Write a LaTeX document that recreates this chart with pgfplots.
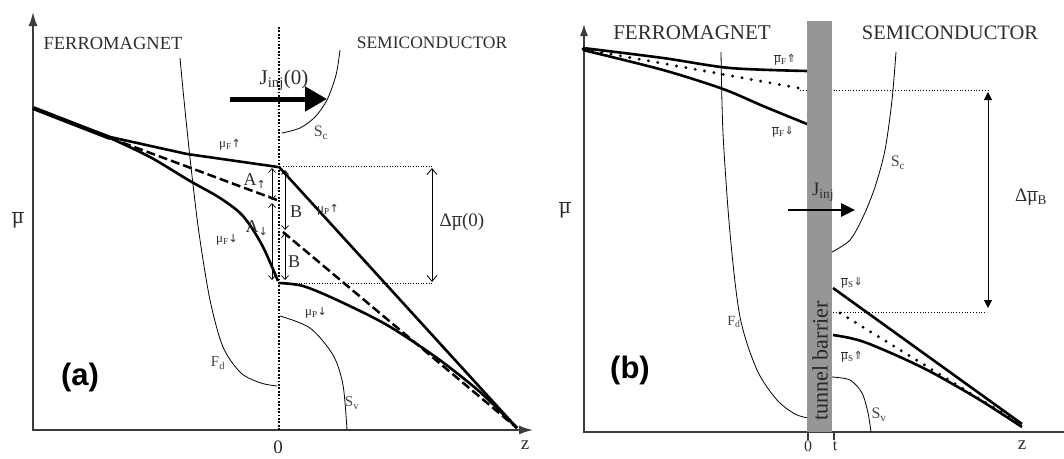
\documentclass[border=0pt]{standalone}
\usepackage{pgfplots}
\pgfplotsset{compat=1.18}
\usepackage{fontspec}
\setmainfont{Liberation Serif}
\newfontfamily\arialb{Liberation Sans}
\newfontfamily\dejavu{DejaVu Sans}
\usetikzlibrary{arrows.meta}
\definecolor{txt}{RGB}{45,45,45}
\definecolor{axc}{RGB}{60,60,60}
\definecolor{thin}{RGB}{70,70,70}
\definecolor{barrier}{RGB}{150,150,150}
\newcommand{\mub}{\ensuremath{\overline{\mbox{μ}}}}
\newcommand{\fs}[1]{\fontsize{#1}{#1}\selectfont}
\newcommand{\ua}{{\dejavu\fs{11}↑}}
\newcommand{\da}{{\dejavu\fs{11}↓}}
\newcommand{\Ua}{{\dejavu\fs{11}⇑}}
\newcommand{\Da}{{\dejavu\fs{11}⇓}}
\begin{document}
\begin{tikzpicture}
\begin{axis}[
  scale only axis, width=1064pt, height=458pt,
  xmin=0, xmax=1064, ymin=0, ymax=458, y dir=reverse,
  hide axis, clip=false,
]
% ================= LEFT PANEL (a) =================
% axes
\addplot[axc, line width=1.6pt, -{Latex[length=14pt,width=9pt]}] coordinates {(33,430) (33,12)};
\addplot[axc, line width=1.6pt, -{Latex[length=14pt,width=9pt]}] coordinates {(32,430) (533,430)};
% vertical dotted line at 0
\addplot[black, line width=2.2pt, dash pattern=on 1.8pt off 1.6pt] coordinates {(279,27) (279,431)};
% thin curves
\addplot[thin, line width=0.8pt, smooth] coordinates {(340,50)(336,75)(327,100)(315,117)(300,128)(282,133)};
\addplot[thin, line width=0.8pt, smooth] coordinates {(180,58)(184,100)(191,167)(199,233)(210,300)(223,347)(241,373)(261,383)(277,386)};
\addplot[thin, line width=0.8pt, smooth] coordinates {(280,316)(310,328)(333,355)(343,385)(347,430)};
% thin dotted horizontals
\addplot[thin, line width=0.6pt, dash pattern=on 0.8pt off 1.8pt] coordinates {(283,166) (433,166)};
\addplot[thin, line width=0.6pt, dash pattern=on 0.8pt off 1.8pt] coordinates {(283,283) (433,283)};
% Delta arrow
\addplot[thin, line width=0.8pt, {Straight Barb[length=6pt,width=10pt]}-{Straight Barb[length=6pt,width=10pt]}] coordinates {(432,168) (432,282)};
% chemical potential lines
\addplot[black, line width=4.2pt] coordinates {(33,108) (110,138)};
\addplot[black, line width=2.6pt] coordinates {(33,108)(110,137)(187,154)(278,167)};
\addplot[black, line width=2.5pt, dash pattern=on 9pt off 4pt] coordinates {(110,138)(180,164)(277,200)};
\addplot[black, line width=2.6pt, smooth, tension=0.5] coordinates {(110,138)(150,157)(190,181)(220,198)(243,216)(262,245)(278,281)};
\addplot[black, line width=2.6pt] coordinates {(279,167)(517,428)};
\addplot[black, line width=2.5pt, dash pattern=on 9pt off 4pt] coordinates {(283,232)(517,428)};
\addplot[black, line width=2.6pt, smooth] coordinates {(279,283)(303,286)(337,300)(387,325)(437,358)(480,392)(517,428)};
% small A, B arrows
\addplot[thin, line width=0.7pt, {Straight Barb[length=4pt,width=7pt]}-{Straight Barb[length=4pt,width=7pt]}] coordinates {(272,168) (272,200)};
\addplot[thin, line width=0.7pt, {Straight Barb[length=4pt,width=7pt]}-{Straight Barb[length=4pt,width=7pt]}] coordinates {(272,203) (272,280)};
\addplot[thin, line width=0.7pt, {Straight Barb[length=4pt,width=7pt]}-{Straight Barb[length=4pt,width=7pt]}] coordinates {(285,170) (285,230)};
\addplot[thin, line width=0.7pt, {Straight Barb[length=4pt,width=7pt]}-{Straight Barb[length=4pt,width=7pt]}] coordinates {(285,233) (285,280)};
% J_inj arrow
\addplot[black, line width=5pt, -{Triangle[length=22pt,width=24pt]}] coordinates {(230,99) (327,99)};
% labels
\node[text=txt, font=\fs{18.5}] at (113,43) {FERROMAGNET};
\node[text=txt, font=\fs{17.5}] at (432,43) {SEMICONDUCTOR};
\node[text=txt, font=\fs{22}] at (18,220) {\mub};
\node[text=txt, font=\fs{21}] at (284,80) {J\textsubscript{inj}(0)};
\node[text=thin, font=\fs{16}] at (321,133) {S\textsubscript{c}};
\node[text=txt, font=\fs{13}] at (230,145) {μ\textsubscript{F}\ua};
\node[text=txt, font=\fs{13}] at (328,210) {μ\textsubscript{P}\ua};
\node[text=txt, font=\fs{13}] at (227,240) {μ\textsubscript{F}\da};
\node[text=txt, font=\fs{13}] at (316,313) {μ\textsubscript{P}\da};
\node[text=txt, font=\fs{18}] at (255,181) {A\textsubscript{\ua}};
\node[text=txt, font=\fs{18}] at (257,228) {A\textsubscript{\da}};
\node[text=txt, font=\fs{18}] at (296,212) {B};
\node[text=txt, font=\fs{18}] at (294,262) {B};
\node[text=txt, font=\fs{19}] at (462,222) {Δ\mub(0)};
\node[text=thin, font=\fs{15}] at (218,363) {F\textsubscript{d}};
\node[text=thin, font=\fs{15}] at (352,403) {S\textsubscript{v}};
\node[text=txt, font=\fs{19}] at (278,447) {0};
\node[text=txt, font=\fs{19}] at (525,445) {z};
\node[font=\arialb\bfseries\fs{31}] at (80,377) {(a)};
% ================= RIGHT PANEL (b) =================
\addplot[axc, line width=1.6pt, -{Latex[length=12pt,width=8pt]}] coordinates {(584,432) (584,24)};
\addplot[axc, line width=1.6pt] coordinates {(583,432) (1064,432)};
\addplot[axc, line width=1.4pt] coordinates {(808,432) (808,440)};
\addplot[axc, line width=1.4pt] coordinates {(834,432) (834,440)};
% thin curves
\addplot[thin, line width=0.8pt, smooth] coordinates {(721,52)(723,133)(730,233)(740,317)(757,370)(777,400)(795,414)(808,418)};
\addplot[thin, line width=0.8pt, smooth] coordinates {(896,52)(892,100)(885,150)(875,187)(863,217)(850,240)(832,252)};
\addplot[thin, line width=0.8pt, smooth] coordinates {(832,377)(850,380)(862,393)(868,413)(871,432)};
% thin dotted horizontals
\addplot[thin, line width=0.6pt, dash pattern=on 0.8pt off 2pt] coordinates {(800,90) (988,90)};
\addplot[thin, line width=0.6pt, dash pattern=on 0.8pt off 2pt] coordinates {(833,312) (987,312)};
% Delta arrow
\addplot[thin, line width=0.9pt, {Triangle[length=8pt,width=8pt]}-{Triangle[length=8pt,width=8pt]}] coordinates {(988,92) (988,308)};
% lines ferromagnet side
\addplot[black, line width=2.6pt, smooth] coordinates {(583,48)(663,58)(730,68)(807,71)};
\addplot[black, line width=2.6pt, smooth] coordinates {(583,50)(663,70)(723,89)(763,106)(807,124)};
\addplot[black, line width=3.2pt, line cap=round, dash pattern=on 0pt off 9.5pt] coordinates {(583,49)(804,89)};
% barrier
\addplot[fill=barrier, draw=none] coordinates {(807,21)(832,21)(832,432)(807,432)} --cycle;
\node[rotate=90, text=black!85, font=\fs{22}] at (820,361) {tunnel barrier};
% semiconductor side
\addplot[black, line width=2.6pt] coordinates {(833,288)(1022,424)};
\addplot[black, line width=2.6pt, smooth] coordinates {(833,335)(850,338)(867,343)(900,357)(933,373)(980,400)(1022,427)};
\addplot[black, line width=3.2pt, line cap=round, dash pattern=on 0pt off 9pt] coordinates {(840,313)(1022,425)};
% J_inj arrow
\addplot[black, line width=2.6pt, -{Triangle[length=14pt,width=13pt]}] coordinates {(788,210) (855,210)};
% labels
\node[text=txt, font=\fs{21}] at (692,33) {FERROMAGNET};
\node[text=txt, font=\fs{20.5}] at (950,33) {SEMICONDUCTOR};
\node[text=txt, font=\fs{22}] at (565,210) {\mub};
\node[text=txt, font=\fs{13}] at (785,60) {\mub\textsubscript{F}\Ua};
\node[text=txt, font=\fs{13}] at (783,132) {\mub\textsubscript{F}\Da};
\node[text=txt, font=\fs{13}] at (852,283) {\mub\textsubscript{S}\Da};
\node[text=txt, font=\fs{13}] at (852,357) {\mub\textsubscript{S}\Ua};
\node[text=txt, font=\fs{19}] at (823,192) {J\textsubscript{inj}};
\node[text=thin, font=\fs{16}] at (898,163) {S\textsubscript{c}};
\node[text=thin, font=\fs{14}] at (734,322) {F\textsubscript{d}};
\node[text=thin, font=\fs{16}] at (879,415) {S\textsubscript{v}};
\node[text=txt, font=\fs{19}] at (1031,197) {Δ\mub\textsubscript{B}};
\node[text=txt, font=\fs{16}, anchor=north, inner sep=1pt] at (808,440) {0};
\node[text=txt, font=\fs{16}, anchor=north, inner sep=1pt] at (835,440) {t};
\node[text=txt, font=\fs{19}] at (1022,445) {z};
\node[font=\arialb\bfseries\fs{31}] at (630,370) {(b)};
\end{axis}
\pgfresetboundingbox
\path[use as bounding box] (0,0) rectangle (1064pt,458pt);
\end{tikzpicture}
\end{document}
